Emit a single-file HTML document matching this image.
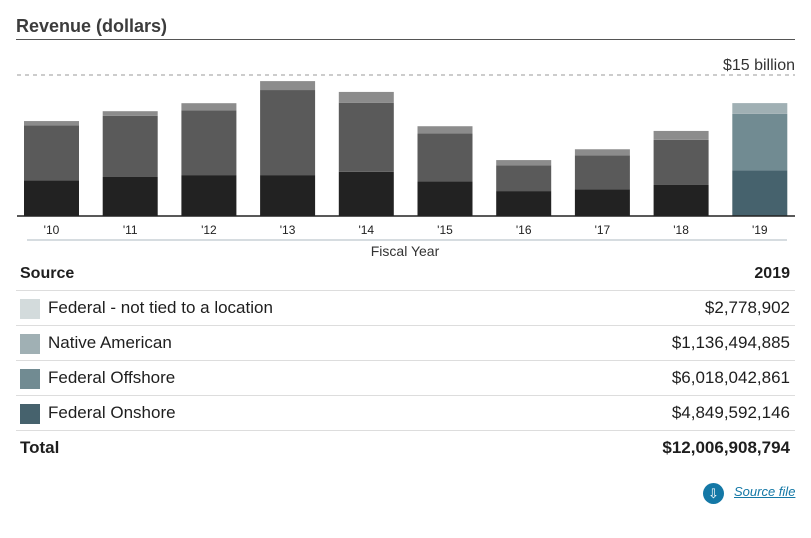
<!DOCTYPE html>
<html><head><meta charset="utf-8"><style>
body{margin:0;width:811px;height:538px;background:#fff;font-family:"Liberation Sans",sans-serif;color:#1e1e1e;position:relative;overflow:hidden}
.title{position:absolute;left:16px;top:16px;font-size:18px;font-weight:bold;color:#3c3c3c}
.tline{position:absolute;left:16px;top:39px;width:779px;height:1px;background:#555}
.row{position:absolute;left:16px;width:779px;height:35px;border-top:1px solid #ddd;font-size:17px}
.row .sw{position:absolute;left:4px;top:8px;width:20px;height:20px}
.row .lb{position:absolute;left:32px;top:7px}
.row .v{position:absolute;right:5px;top:7px}
</style></head><body>
<div class="title">Revenue (dollars)</div>
<div class="tline"></div>
<svg id="chart" width="811" height="262" style="position:absolute;left:0;top:0"></svg>
<div style="position:absolute;left:20px;top:265px;font-size:16px;font-weight:bold">Source</div>
<div style="position:absolute;right:21px;top:265px;font-size:16px;font-weight:bold">2019</div>
<div class="row" style="top:290px"><div class="sw" style="background:#d3dbdc"></div><div class="lb">Federal - not tied to a location</div><div class="v">$2,778,902</div></div>
<div class="row" style="top:325px"><div class="sw" style="background:#a0b0b4"></div><div class="lb">Native American</div><div class="v">$1,136,494,885</div></div>
<div class="row" style="top:360px"><div class="sw" style="background:#718b92"></div><div class="lb">Federal Offshore</div><div class="v">$6,018,042,861</div></div>
<div class="row" style="top:395px"><div class="sw" style="background:#46626d"></div><div class="lb">Federal Onshore</div><div class="v">$4,849,592,146</div></div>
<div class="row" style="top:430px;font-weight:bold"><div class="lb" style="left:4px">Total</div><div class="v">$12,006,908,794</div></div>
<div style="position:absolute;left:703px;top:483px;width:21px;height:21px;border-radius:50%;background:#1478a6;color:#fff;font-size:13px;text-align:center;line-height:21px">⇩</div>
<div style="position:absolute;left:734px;top:484px;font-size:13px;font-style:italic;color:#1478a6;text-decoration:underline">Source file</div>
<script>
const years=["'10","'11","'12","'13","'14","'15","'16","'17","'18","'19"];
const onshore=[3.8,4.15,4.35,4.35,4.7,3.7,2.65,2.85,3.3,4.85];
const offshore=[5.85,6.5,6.9,9.05,7.35,5.1,2.75,3.6,4.8,6.02];
const native=[0.45,0.5,0.75,0.95,1.15,0.75,0.55,0.65,0.95,1.14];
const notTied=[0,0,0,0,0,0,0,0,0,0.003];
const maxLabel="$15 billion";
const svg=document.getElementById('chart');
const NS='http://www.w3.org/2000/svg';
const base=216,top15=75;
function y(v){return base-(base-top15)*v/15;}
function x(i){return 24+i*78.7;}
function mk(t,a){const e=document.createElementNS(NS,t);for(const k in a)e.setAttribute(k,a[k]);svg.appendChild(e);return e;}
let g=mk('line',{x1:17,x2:795,y1:top15,y2:top15,stroke:'#ccc','stroke-width':2,'stroke-dasharray':'4,4'});

let ml=mk('text',{x:795,y:70,'text-anchor':'end','font-size':16,fill:'#333','font-family':'Liberation Sans'});ml.textContent=maxLabel;

const series=[[onshore,'#222222','#46626d','onshore'],[offshore,'#5a5a5a','#718b92','offshore'],[native,'#8c8c8c','#a0b0b4','native'],[notTied,'#c8c8c8','#d3dbdc','not-tied']];
years.forEach((yr,i)=>{
  let cum=0;
  series.forEach(s=>{
    const v=s[0][i];if(v<=0)return;
    const r=mk('rect',{x:x(i),width:55,y:y(cum+v),height:y(cum)-y(cum+v),fill:i==9?s[2]:s[1]});
    
    
    cum+=v;
  });
  const t=mk('text',{x:x(i)+27.5,y:234,'text-anchor':'middle','font-size':12,fill:'#222','font-family':'Liberation Sans'});t.textContent=yr;
  
  
});
let ax=mk('line',{x1:17,x2:795,y1:base,y2:base,stroke:'#222','stroke-width':1.5});

let ul=mk('line',{x1:27,x2:787,y1:240,y2:240,stroke:'#d6dce0','stroke-width':2});

let xt=mk('text',{x:405,y:256,'text-anchor':'middle','font-size':14,fill:'#333','font-family':'Liberation Sans'});xt.textContent='Fiscal Year';

</script>
</body></html>
